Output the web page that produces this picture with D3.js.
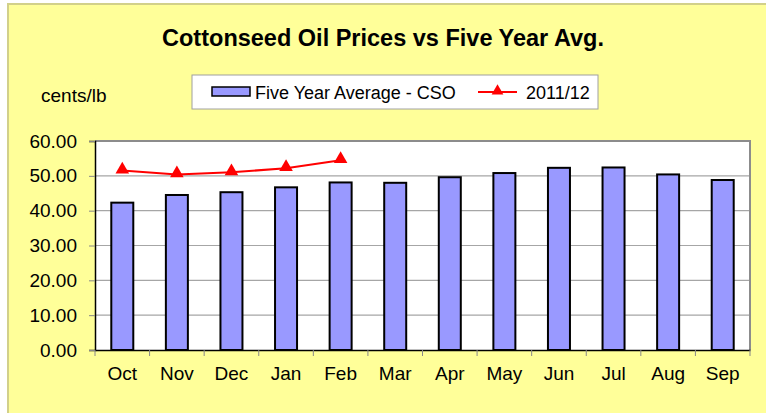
<!DOCTYPE html>
<html>
<head>
<meta charset="utf-8">
<script src="https://cdn.jsdelivr.net/npm/d3@7"></script>
<style>
  body { margin: 0; background: #fff; }
  svg { display: block; font-family: Arial, "Liberation Sans", sans-serif; }
</style>
</head>
<body>
<div id="chart"></div>
<script>
// months of the marketing year
var months = ["Oct", "Nov", "Dec", "Jan", "Feb", "Mar", "Apr", "May", "Jun", "Jul", "Aug", "Sep"]
// five year average, cents/lb
var fiveYearAvg = [42.3, 44.5, 45.3, 46.7, 48.1, 48.0, 49.6, 50.8, 52.3, 52.4, 50.4, 48.8]
// current season so far
var season2011 = [51.5, 50.4, 51.0, 52.2, 54.5]
var yTicks = [0, 10, 20, 30, 40, 50, 60]

var W = 766, H = 413
var margin = {top: 141, right: 16, bottom: 63, left: 95}
var width = W - margin.left - margin.right,
    height = H - margin.top - margin.bottom
var font = "Arial, 'Liberation Sans', sans-serif"

var svg = d3.select("#chart").append("svg")
  .attr("width", W)
  .attr("height", H)

// chart area background
svg.append("rect")
  .attr("x", 8).attr("y", 4)
  .attr("width", W).attr("height", H)
  .attr("fill", "#ffff99")
  .attr("stroke", "#d2d08a")
  .attr("stroke-width", 2)

svg.append("text")
  .attr("x", 383).attr("y", 46)
  .attr("text-anchor", "middle")
  .attr("font-size", "23.5px")
  .attr("font-weight", "bold")
  .text("Cottonseed Oil Prices vs Five Year Avg.")

svg.append("text")
  .attr("x", 41).attr("y", 102)
  .attr("font-size", "19px")
  .text("cents/lb")

// legend
var lg = svg.append("g")
lg.append("rect")
  .attr("x", 192).attr("y", 75)
  .attr("width", 406).attr("height", 34)
  .attr("fill", "#fff")
  .attr("stroke", "#a0a0a0")
lg.append("rect")
  .attr("x", 212).attr("y", 87)
  .attr("width", 38).attr("height", 9)
  .attr("fill", "#9999ff")
  .attr("stroke", "#000")
  .attr("stroke-width", 1.5)
lg.append("text")
  .attr("x", 255).attr("y", 98.5)
  .attr("font-size", "18px")
  .text("Five Year Average - CSO")
lg.append("line")
  .attr("x1", 478).attr("x2", 517)
  .attr("y1", 92).attr("y2", 92)
  .attr("stroke", "#ff0000")
  .attr("stroke-width", 2)
lg.append("path")
  .attr("d", d3.symbol(d3.symbolTriangle, 60)())
  .attr("transform", "translate(497.5,91)")
  .attr("fill", "#ff0000")
lg.append("text")
  .attr("x", 526).attr("y", 98.5)
  .attr("font-size", "18px")
  .text("2011/12")

var g = svg.append("g")
  .attr("transform", "translate(" + margin.left + "," + margin.top + ")")

var xb = d3.scaleBand().domain(months).range([0, width])

var y = d3.scaleLinear()
  .domain([0, 60])
  .range([height, 0])

g.append("rect")
  .attr("width", width).attr("height", height)
  .attr("fill", "#fff")

// gridlines
g.selectAll(".grid")
  .data(yTicks.slice(1))
  .enter().append("line")
  .attr("x1", 0).attr("x2", width)
  .attr("y1", function(d) { return y(d) })
  .attr("y2", function(d) { return y(d) })
  .attr("stroke", "#a6a6a6")
  .attr("stroke-width", 1.2)

// plot border top/right
g.append("path")
  .attr("d", "M0,0H" + width + "V" + height)
  .attr("fill", "none")
  .attr("stroke", "#8c8c8c")
  .attr("stroke-width", 2)

g.selectAll(".bar")
  .data(fiveYearAvg)
  .enter().append("rect")
  .attr("x", function(d, i) { return xb(months[i]) + (xb.bandwidth() - 22) / 2 })
  .attr("y", function(d) { return y(d) })
  .attr("width", 22)
  .attr("height", function(d) { return height - y(d) })
  .attr("fill", "#9999ff")
  .attr("stroke", "#000")
  .attr("stroke-width", 2)

// axes
var yAxis = g.append("g")
  .call(d3.axisLeft(y).tickValues(yTicks).tickFormat(d3.format(".2f")).tickSize(6).tickPadding(12))
yAxis.select(".domain").attr("stroke", "#000").attr("stroke-width", 1.5)
yAxis.selectAll(".tick line").attr("stroke", "#888")
yAxis.selectAll("text").attr("font-size", "19px").attr("fill", "#000").attr("font-family", font)

var xAxis = g.append("g")
  .attr("transform", "translate(0," + height + ")")
  .call(d3.axisBottom(xb).tickSize(0))
xAxis.select(".domain").attr("stroke", "#000").attr("stroke-width", 1.5)
xAxis.selectAll("text")
  .attr("y", 30).attr("dy", 0)
  .attr("font-size", "19px").attr("fill", "#000").attr("font-family", font)

// tick marks at category boundaries
g.selectAll(".xtick")
  .data(months.concat(["end"]))
  .enter().append("line")
  .attr("x1", function(d, i) { return i * xb.step() })
  .attr("x2", function(d, i) { return i * xb.step() })
  .attr("y1", height).attr("y2", height + 6)
  .attr("stroke", "#888")

// 2011/12 line
var line = d3.line()
  .x(function(d, i) { return xb(months[i]) + xb.bandwidth() / 2 })
  .y(function(d) { return y(d) })

g.append("path")
  .datum(season2011)
  .attr("d", line)
  .attr("fill", "none")
  .attr("stroke", "#ff0000")
  .attr("stroke-width", 2)

g.selectAll(".mk")
  .data(season2011)
  .enter().append("path")
  .attr("d", d3.symbol(d3.symbolTriangle, 80)())
  .attr("transform", function(d, i) {
    return "translate(" + (xb(months[i]) + xb.bandwidth() / 2) + "," + (y(d) - 1) + ")"
  })
  .attr("fill", "#ff0000")
</script>
</body>
</html>
